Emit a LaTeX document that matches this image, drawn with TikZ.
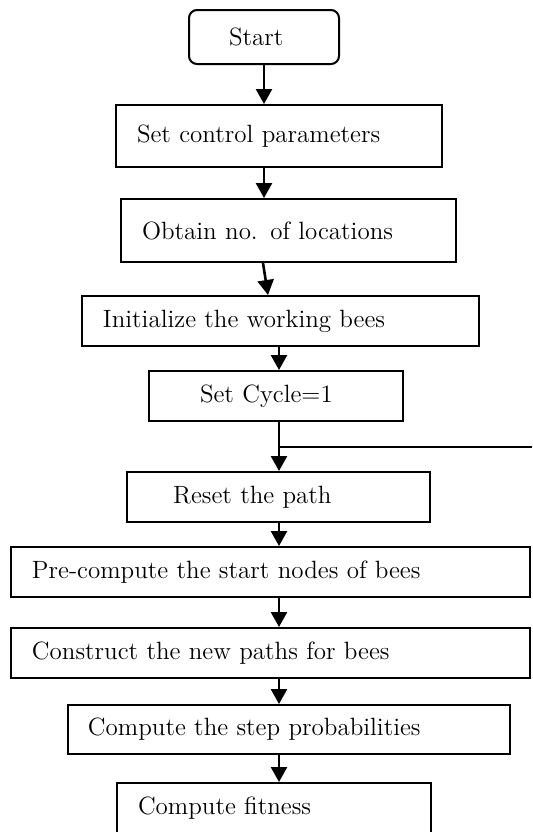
\documentclass[tikz,border=0pt]{standalone}
\usepackage{tikz}
\usetikzlibrary{calc}
\usetikzlibrary{arrows.meta}

\begin{document}
\begin{tikzpicture}[x=0.5pt,y=-0.5pt]
    \tikzstyle{process}=[draw,line width=1pt,inner ysep=0pt,align=left,font=\fontsize{12.5}{15}\selectfont]
    \tikzstyle{flow}=[-{Triangle[width=8pt,length=7.5pt]},line width=1.3pt,color=black]
    \tikzstyle{loopline}=[line width=0.8pt,color=black]

    \clip (0,0) rectangle (532,832);

    % Boxes
	\node[style=process,rounded corners=4pt,text width=35pt,inner xsep=20pt,minimum height=27pt] (start) at (264,37) {Start};
	\node[style=process,text width=142pt,inner xsep=10.5pt,minimum height=31pt] (params) at (279,136) {Set control parameters};
	\node[style=process,text width=146.5pt,inner xsep=10.5pt,minimum height=31.5pt] (locs) at (288.5,230.5) {Obtain no. of locations};
	\node[style=process,text width=177.5pt,inner xsep=10.5pt,minimum height=25pt] (init) at (280.5,321) {Initialize the working bees};
	\node[style=process,text width=76pt,inner xsep=25.5pt,minimum height=25pt] (cycle) at (276,396) {Set Cycle=1};
	\node[style=process,text width=105.5pt,inner xsep=23pt,minimum height=25pt] (reset) at (278.5,497) {Reset the path};
	\node[style=process,text width=238.5pt,inner xsep=10.5pt,minimum height=25pt] (precomp) at (270.5,572) {Pre-compute the start nodes of bees};
	\node[style=process,text width=238.5pt,inner xsep=10.5pt,minimum height=25pt] (construct) at (270.5,653) {Construct the new paths for bees};
	\node[style=process,text width=201pt,inner xsep=10pt,minimum height=24.5pt] (stepprob) at (289,729.5) {Compute the step probabilities};
	\node[style=process,text width=136pt,inner xsep=10.5pt,minimum height=25pt] (fitness) at (274,808) {Compute fitness};

	\coordinate (spine) at (279,0);
	\coordinate (loopin) at (532,447);

    % Arrows
	\draw[style=flow] (start.south) -- (params.north -| start);
	\draw[style=flow] (params.south -| start) -- (locs.north -| start);
	\draw[style=flow] ($(locs.south -| start)+(-1,0)$) -- ($(init.north -| start)+(4,0)$);
	\draw[style=flow] (init.south -| spine) -- (cycle.north -| spine);
	\draw[style=flow] (cycle.south -| spine) -- (reset.north -| spine);
	\draw[style=flow] (reset.south -| spine) -- (precomp.north -| spine);
	\draw[style=flow] (precomp.south -| spine) -- (construct.north -| spine);
	\draw[style=flow] (construct.south -| spine) -- (stepprob.north -| spine);
	\draw[style=flow] (stepprob.south -| spine) -- (fitness.north -| spine);

    % Loop back
	\draw[style=loopline] (loopin) -- (loopin -| spine);

\end{tikzpicture}
\end{document}
